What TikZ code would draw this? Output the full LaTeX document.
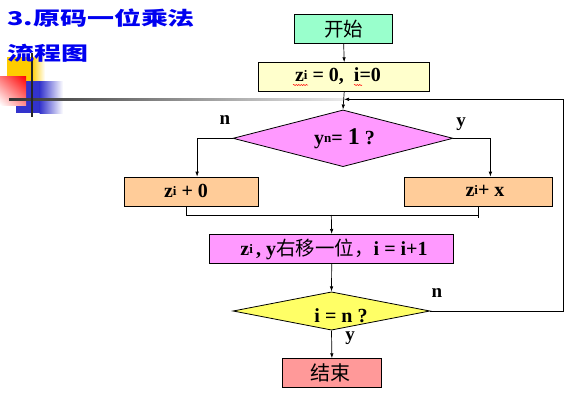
\documentclass[tikz,border=0pt]{standalone}
\usepackage{fontspec}
\usepackage{graphicx}
\setmainfont{Liberation Serif}
\newfontfamily\cjk{Noto Sans CJK SC}
\usetikzlibrary{shapes.geometric,arrows.meta,decorations.pathmorphing,shadings}
\definecolor{ttlblue}{RGB}{0,0,240}
\definecolor{cstart}{RGB}{153,255,204}
\definecolor{cinit}{RGB}{255,255,204}
\definecolor{cviolet}{RGB}{255,153,255}
\definecolor{corange}{RGB}{255,204,153}
\definecolor{cyel}{RGB}{255,255,102}
\definecolor{cend}{RGB}{255,153,153}
\definecolor{lgyellow}{RGB}{255,204,0}
\definecolor{lgblue}{RGB}{51,51,204}
\newcommand{\smi}[1]{\raisebox{2pt}{\fontsize{13}{13}\selectfont #1}}
\begin{document}
\begin{tikzpicture}[x=1pt,y=-1pt,
  txt/.style={font=\fontsize{20}{20}\selectfont\bfseries},
  boxn/.style={draw=black, line width=0.8pt, inner sep=0pt, anchor=north west},
  dia/.style={draw=black, line width=0.8pt, diamond, inner sep=0pt},
  lbl/.style={font=\fontsize{19}{19}\selectfont\bfseries, inner sep=0pt},
  conn/.style={line width=0.7pt, -{Latex[length=5pt,width=3.5pt]}},
  line/.style={line width=0.7pt},
  ttl/.style={font=\cjk\fontsize{19}{19}\selectfont\bfseries, text=ttlblue, inner sep=0pt, anchor=west}
]
\useasboundingbox (0,0) rectangle (571,399);
% logo
\fill[lgyellow] (7,57) rectangle (32,81);
\shade[left color=lgyellow, right color=white] (31.5,57) rectangle (45,81);
\fill[lgblue] (16,81) rectangle (40,113);
\shade[left color=lgblue, right color=white] (39.5,81) rectangle (63,113);
\shade[upper right=red, upper left=red!55!white, lower right=red!45!white, lower left=white] (0,76) rectangle (26,105);
\shade[left color=black!80, right color=black!8] (9,98.3) rectangle (345,100.3);
\fill[black!85] (30.7,53) rectangle (32.7,117);
% title
\node[ttl] (t1) at (7,18.5) {\scalebox{1.42}[1]{3.原码一位乘法}};
\node[ttl] (t2) at (7,53.5) {\scalebox{1.42}[1]{流程图}};
% boxes
\node[boxn, fill=cstart, minimum width=98pt, minimum height=29.3pt] (start) at (294.3,14) {};
\node[font=\cjk\fontsize{19.5}{19.5}\selectfont] at (start.center) {开始};
\node[boxn, fill=cinit, minimum width=171pt, minimum height=28.7pt] (init) at (258.3,62.3) {};
\node[txt] (initt) at (338,76.5) {z\smi{i} = 0,\ \ i=0};
\node[dia, fill=cviolet, minimum width=220pt, minimum height=56.7pt] (d1) at (343,138.3) {};
\node[txt] at (344.5,138.5) {y\smi{n}= {\fontsize{24}{24}\selectfont 1} ?};
\node[boxn, fill=corange, minimum width=134pt, minimum height=29.3pt] (b1) at (124.3,176.7) {};
\node[txt] at (186,191.3) {z\smi{i} + 0};
\node[boxn, fill=corange, minimum width=147.4pt, minimum height=29.3pt] (b2) at (404.3,176.7) {};
\node[txt] at (485,191.3) {z\smi{i}+ x};
\node[boxn, fill=cviolet, minimum width=244pt, minimum height=29.3pt] (b3) at (209.3,234) {};
\node[txt] at (334,249) {z\smi{i}\,, y{\cjk\mdseries\fontsize{19.5}{19.5}\selectfont 右移一位，}i = i+1};
\node[dia, fill=cyel, minimum width=197pt, minimum height=38.3pt] (d2) at (331.5,311) {};
\node[txt] at (341,316) {i = n ?};
\node[boxn, fill=cend, minimum width=98.4pt, minimum height=28.4pt] (end) at (282.3,358.3) {};
\node[font=\cjk\fontsize{20}{20}\selectfont] at (330,372.5) {结束};
% spell-check marks
\draw[red, line width=0.5pt, decorate, decoration={snake, amplitude=0.6pt, segment length=2.5pt}] (293,85) -- (308,85);
\draw[red, line width=0.5pt, decorate, decoration={snake, amplitude=0.6pt, segment length=2.5pt}] (354,85) -- (362,85);
% labels
\node[lbl] (ln1) at (225,120.5) {n};
\node[lbl] (ly1) at (461,124.5) {y};
\node[lbl] (ln2) at (437,293.5) {n};
\node[lbl] (ly2) at (350,338) {y};
% connectors
\draw[conn] (start.south) -- (init.north);
\draw[conn] (init.south) -- (d1.north);
\draw[conn] (d1.west) -| ([xshift=5.4pt]b1.north);
\draw[conn] (d1.east) -| ([xshift=12pt]b2.north);
\coordinate (j) at (331.3,215);
\draw[line] ([xshift=-5.6pt]b1.south) |- (j);
\draw[line] (b2.south) -- ++(0,10.7);
\draw[line] (j) -- (b2.south |- j);
\draw[conn] (j) -- (b3.north);
\draw[conn] (b3.south) -- (d2.north);
\draw[conn] (d2.south) -- (end.north);
\coordinate (lp1) at (563.3,311);
\coordinate (lp2) at (563.3,99.3);
\coordinate (lp3) at (344,99.3);
\draw[conn] (d2.east) -- (lp1) -- (lp2) -- (lp3);
\end{tikzpicture}
\end{document}
